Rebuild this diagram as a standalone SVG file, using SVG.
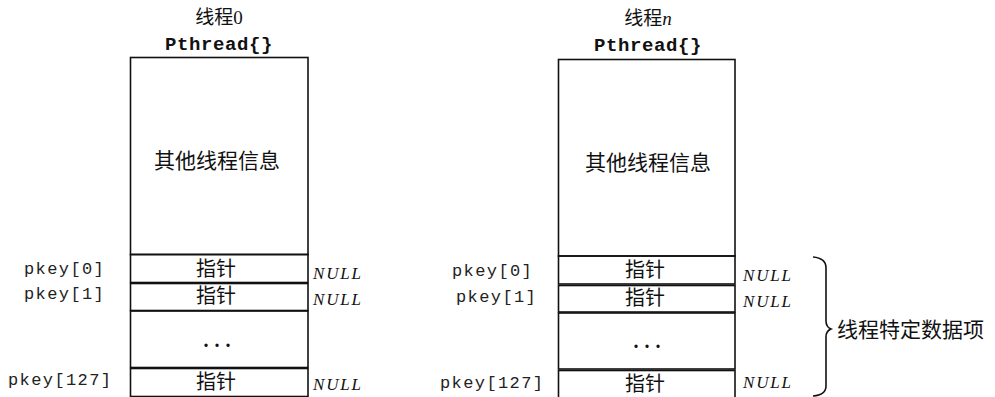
<svg xmlns="http://www.w3.org/2000/svg" width="995" height="397" viewBox="0 0 995 397">
<style>
.box{fill:none;stroke:#111;stroke-width:1.6}
.cjk{font-family:"Liberation Serif","Noto Sans CJK SC",serif;fill:#111}
.title{font-size:19px}
.info{font-size:21px}
.ptr{font-size:20px}
.mono{font-family:"Liberation Mono",monospace;font-size:17px;letter-spacing:1.4px;fill:#222}
.bold{font-weight:bold;font-size:19px;fill:#111}
.null{font-family:"Liberation Serif",serif;font-style:italic;font-size:17px;fill:#111}
.dots{font-family:"Liberation Serif",serif;font-size:20px;font-weight:bold;letter-spacing:6px;fill:#111}
.brace{fill:none;stroke:#111;stroke-width:1.6}
</style>
<g id="thread0">
  <text class="cjk title" x="219" y="24" text-anchor="middle">线程0</text>
  <text class="mono bold" x="219" y="50" text-anchor="middle" style="letter-spacing:0.6px">Pthread{}</text>
  <rect class="box" x="130.5" y="57.5" width="177.5" height="197"/>
  <text class="cjk info" x="217" y="168" text-anchor="middle">其他线程信息</text>
  <rect class="box" x="130.5" y="254.5" width="177.5" height="28"/>
  <rect class="box" x="130.5" y="283.5" width="177.5" height="27"/>
  <rect class="box" x="130.5" y="311" width="177.5" height="56.5"/>
  <rect class="box" x="130.5" y="368.5" width="177.5" height="28"/>
  <text class="cjk ptr" x="216" y="276" text-anchor="middle">指针</text>
  <text class="cjk ptr" x="216" y="303" text-anchor="middle">指针</text>
  <text class="dots" x="220" y="347" text-anchor="middle">...</text>
  <text class="cjk ptr" x="216" y="389" text-anchor="middle">指针</text>
  <text class="mono" x="24" y="274">pkey[0]</text>
  <text class="mono" x="24" y="299">pkey[1]</text>
  <text class="mono" x="8" y="385">pkey[127]</text>
  <text class="null" x="313" y="279" textLength="48">NULL</text>
  <text class="null" x="313" y="305" textLength="48">NULL</text>
  <text class="null" x="313" y="390" textLength="48">NULL</text>
</g>
<g id="threadn">
  <text class="cjk title" x="648" y="25" text-anchor="middle">线程<tspan font-style="italic">n</tspan></text>
  <text class="mono bold" x="648" y="51" text-anchor="middle" style="letter-spacing:0.6px">Pthread{}</text>
  <rect class="box" x="558.5" y="59.5" width="176.5" height="196.5"/>
  <text class="cjk info" x="648" y="170" text-anchor="middle">其他线程信息</text>
  <rect class="box" x="558.5" y="256" width="176.5" height="28"/>
  <rect class="box" x="558.5" y="285.5" width="176.5" height="26.5"/>
  <rect class="box" x="558.5" y="313" width="176.5" height="56"/>
  <rect class="box" x="558.5" y="370.5" width="176.5" height="28"/>
  <text class="cjk ptr" x="645" y="277" text-anchor="middle">指针</text>
  <text class="cjk ptr" x="645" y="305" text-anchor="middle">指针</text>
  <text class="dots" x="650" y="348" text-anchor="middle">...</text>
  <text class="cjk ptr" x="645" y="391" text-anchor="middle">指针</text>
  <text class="mono" x="452" y="276">pkey[0]</text>
  <text class="mono" x="456" y="302">pkey[1]</text>
  <text class="mono" x="440" y="388">pkey[127]</text>
  <text class="null" x="743" y="281" textLength="48">NULL</text>
  <text class="null" x="743" y="307" textLength="48">NULL</text>
  <text class="null" x="743" y="388" textLength="48">NULL</text>
</g>
<g id="connectors">
  <path class="brace" d="M813,257 Q826,258 826,268 L826,321 Q826,327 831,329 Q826,331 826,337 L826,386 Q826,395 813,396"/>
</g>
<g id="label">
  <text class="cjk info" x="837" y="337">线程特定数据项</text>
</g>
</svg>
